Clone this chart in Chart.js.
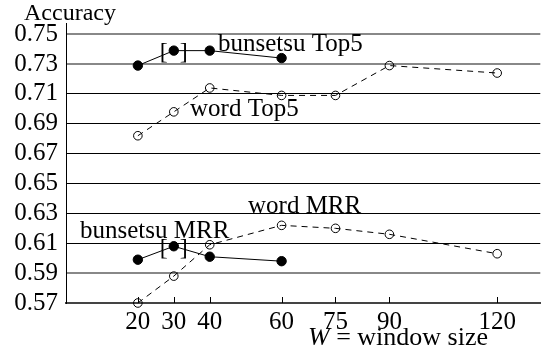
<!DOCTYPE html>
<html>
<head>
<meta charset="utf-8">
<script src="https://cdn.jsdelivr.net/npm/chart.js@4.4.0/dist/chart.umd.min.js"></script>
<style>
  html, body { margin: 0; padding: 0; background: #fff; }
  #wrap { width: 546px; height: 351px; }
</style>
</head>
<body>
<div id="wrap"><canvas id="accChart" width="546" height="351"></canvas></div>
<script>
// Window sizes (x)
const windowSizes = [20, 30, 40, 60, 75, 90, 120];
const bunsetsuWindows = [20, 30, 40, 60];

// Accuracy values
const bunsetsuTop5 = [0.729, 0.739, 0.739, 0.734];
const wordTop5 = [0.682, 0.698, 0.714, 0.709, 0.709, 0.729, 0.724];
const bunsetsuMRR = [0.599, 0.608, 0.601, 0.598];
const wordMRR = [0.570, 0.588, 0.609, 0.622, 0.620, 0.616, 0.603];

// Y tick labels
const yTicks = [0.57, 0.59, 0.61, 0.63, 0.65, 0.67, 0.69, 0.71, 0.73, 0.75];

const SERIF = "'Liberation Serif', 'DejaVu Serif', serif";

function toPoints(xs, ys) {
  return xs.map((x, i) => ({ x: x, y: ys[i] }));
}

// Tick kecil ke dalam + teks label
const annotations = {
  id: "annotations",
  beforeDatasetsDraw(chart) {
    const { ctx, chartArea, scales } = chart;
    ctx.save();
    ctx.strokeStyle = "#000";
    ctx.lineWidth = 1;
    windowSizes.forEach((w) => {
      const px = Math.round(scales.x.getPixelForValue(w)) + 0.5;
      ctx.beginPath();
      ctx.moveTo(px, chartArea.bottom);
      ctx.lineTo(px, chartArea.bottom - 6);
      ctx.stroke();
    });

    // kurung [ ] di sekitar titik W=30
    ctx.fillStyle = "#000";
    ctx.font = "24px " + SERIF;
    ctx.textBaseline = "middle";
    ctx.textAlign = "center";
    [bunsetsuTop5[1], bunsetsuMRR[1]].forEach((v) => {
      const px = scales.x.getPixelForValue(30);
      const py = scales.y.getPixelForValue(v) + 2;
      ctx.fillText("[", px - 10, py);
      ctx.fillText("]", px + 10, py);
    });
    ctx.restore();
  },
  afterDraw(chart) {
    const { ctx } = chart;
    ctx.save();
    ctx.fillStyle = "#000";
    ctx.textBaseline = "alphabetic";
    ctx.textAlign = "left";

    ctx.font = "24px " + SERIF;
    ctx.fillText("Accuracy", 24, 20);

    ctx.font = "25px " + SERIF;
    ctx.fillText("bunsetsu Top5", 218, 51);
    ctx.fillText("word Top5", 190, 116);
    ctx.fillText("word MRR", 248, 213);
    ctx.fillText("bunsetsu MRR", 80, 238);

    // judul sumbu x
    ctx.font = "italic 26px " + SERIF;
    ctx.fillText("W", 308, 345);
    const wWidth = ctx.measureText("W").width;
    ctx.font = "26px " + SERIF;
    ctx.fillText(" = window size", 308 + wWidth, 345);
    ctx.restore();
  },
};

const ctx = document.getElementById("accChart").getContext("2d");

new Chart(ctx, {
  type: "scatter",
  data: {
    datasets: [
      {
        label: "bunsetsu Top5",
        data: toPoints(bunsetsuWindows, bunsetsuTop5),
        showLine: true,
        borderColor: "#000",
        borderWidth: 1,
        pointRadius: 4.7,
        pointBackgroundColor: "#000",
        pointBorderColor: "#000",
        clip: false,
      },
      {
        label: "word Top5",
        data: toPoints(windowSizes, wordTop5),
        showLine: true,
        borderColor: "#000",
        borderWidth: 1,
        borderDash: [6, 5],
        pointRadius: 4.3,
        pointBorderWidth: 1,
        pointBackgroundColor: "rgba(0,0,0,0)",
        pointBorderColor: "#000",
        clip: false,
      },
      {
        label: "bunsetsu MRR",
        data: toPoints(bunsetsuWindows, bunsetsuMRR),
        showLine: true,
        borderColor: "#000",
        borderWidth: 1,
        pointRadius: 4.7,
        pointBackgroundColor: "#000",
        pointBorderColor: "#000",
        clip: false,
      },
      {
        label: "word MRR",
        data: toPoints(windowSizes, wordMRR),
        showLine: true,
        borderColor: "#000",
        borderWidth: 1,
        borderDash: [6, 5],
        pointRadius: 4.3,
        pointBorderWidth: 1,
        pointBackgroundColor: "rgba(0,0,0,0)",
        pointBorderColor: "#000",
        clip: false,
      },
    ],
  },
  options: {
    responsive: false,
    animation: false,
    devicePixelRatio: 1,
    layout: { padding: { top: 21, right: 0, left: 0, bottom: 0 } },
    plugins: {
      legend: { display: false },
      tooltip: { enabled: false },
    },
    scales: {
      x: {
        type: "linear",
        min: 0,
        max: 132,
        afterBuildTicks: (scale) => {
          scale.ticks = windowSizes.map((v) => ({ value: v }));
        },
        afterFit: (scale) => {
          scale.height = 48;
        },
        grid: { display: false, drawTicks: false },
        border: { display: true, color: "#444", width: 2 },
        ticks: {
          color: "#000",
          padding: 4,
          maxRotation: 0,
          autoSkip: false,
          font: { family: SERIF, size: 25 },
        },
      },
      y: {
        min: 0.57,
        max: 0.7575,
        afterBuildTicks: (scale) => {
          scale.ticks = yTicks.map((v) => ({ value: v }));
        },
        afterFit: (scale) => {
          scale.width = 66;
        },
        grid: {
          drawTicks: false,
          color: (c) => {
            const v = c.tick ? Math.round(c.tick.value * 100) : 0;
            if (v === 57) return "rgba(0,0,0,0)";
            return v === 75 || v === 73 || v === 59 ? "#888" : "#000";
          },
          lineWidth: (c) => {
            const v = c.tick ? Math.round(c.tick.value * 100) : 0;
            return v === 75 || v === 73 || v === 59 ? 2 : 1;
          },
        },
        border: { display: true, color: "#000", width: 1 },
        ticks: {
          color: "#000",
          padding: 8,
          autoSkip: false,
          font: { family: SERIF, size: 25 },
          callback: (v) => Number(v).toFixed(2),
        },
      },
    },
  },
  plugins: [annotations],
});
</script>
</body>
</html>
